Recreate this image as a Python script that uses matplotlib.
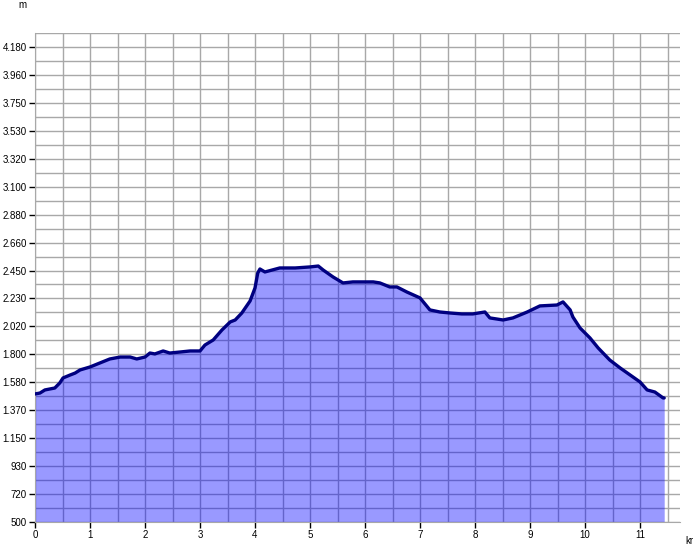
import numpy as np
import matplotlib
matplotlib.use("Agg")
import matplotlib.pyplot as plt

# elevation profile
dist_km = [0.00, 0.09, 0.18, 0.36, 0.45, 0.51, 0.64, 0.73, 0.82, 1.00,
           1.18, 1.36, 1.55, 1.73, 1.85, 2.00, 2.09, 2.18, 2.33, 2.45,
           2.64, 2.82, 3.00, 3.09, 3.24, 3.40, 3.55, 3.64, 3.76, 3.91,
           4.00, 4.05, 4.09, 4.18, 4.45, 4.73, 5.00, 5.15, 5.24, 5.42,
           5.60, 5.78, 6.00, 6.15, 6.27, 6.45, 6.58, 6.76, 7.00, 7.18,
           7.36, 7.55, 7.76, 7.96, 8.18, 8.27, 8.51, 8.69, 8.95, 9.18,
           9.49, 9.60, 9.73, 9.78, 9.91, 10.09, 10.24, 10.45, 10.64, 10.82,
           11.00, 11.13, 11.27, 11.42, 11.44]
elev_m = [1492, 1499, 1523, 1538, 1577, 1616, 1639, 1654, 1678, 1701,
          1732, 1763, 1778, 1778, 1763, 1778, 1809, 1802, 1825, 1809,
          1817, 1825, 1825, 1871, 1910, 1988, 2050, 2065, 2119, 2212,
          2313, 2429, 2460, 2437, 2468, 2468, 2476, 2483, 2452, 2398,
          2352, 2360, 2360, 2360, 2352, 2321, 2321, 2282, 2236, 2143,
          2127, 2119, 2112, 2112, 2127, 2081, 2065, 2081, 2127, 2174,
          2181, 2205, 2143, 2088, 2003, 1926, 1848, 1755, 1693, 1639,
          1585, 1523, 1507, 1461, 1461]

y_labels = ["500", "720", "930", "1.150", "1.370", "1.580", "1.800", "2.020",
            "2.230", "2.450", "2.660", "2.880", "3.100", "3.320", "3.530",
            "3.750", "3.960", "4.180"]
x_labels = [str(i) for i in range(12)]

plt.rcParams["font.family"] = ["Liberation Sans", "DejaVu Sans"]

y_min = 500
y_step = (4180 - 500) / 17
y_ticks = [y_min + i * y_step for i in range(len(y_labels))]
x_max = (680 - 35) / 55
y_max = y_min + 17.5 * y_step

W, H = 693, 547
fig = plt.figure(figsize=(W / 100, H / 100), dpi=100)
ax = fig.add_axes([35 / W, (H - 522) / H, (680 - 35) / W, (522 - 33) / H])

ax.set_xlim(0, x_max)
ax.set_ylim(y_min, y_max)

ax.set_xticks(range(12))
ax.set_xticklabels(x_labels)
ax.set_yticks(y_ticks)
ax.set_yticklabels(y_labels)
ax.set_xticks(np.arange(0.5, x_max, 1.0), minor=True)
ax.set_yticks(np.arange(y_min + y_step / 2, y_max + 1, y_step), minor=True)
ax.tick_params(which="minor", length=0)
ax.tick_params(which="major", length=4, width=1, color="black",
               labelsize=7, pad=2)

ax.grid(True, which="both", color="#a8a8a8", linewidth=1, zorder=0)
ax.set_axisbelow(True)
for side in ["top", "right"]:
    ax.spines[side].set_visible(False)
ax.spines["left"].set_color("#a8a8a8")
ax.spines["bottom"].set_color("#a8a8a8")

ax.fill_between(dist_km, elev_m, y_min, color="#0000ff", alpha=0.4,
                linewidth=0, zorder=2)
ax.plot(dist_km, elev_m, color="#000080", linewidth=2.4, zorder=3,
        solid_joinstyle="round", solid_capstyle="round")

fig.text(22 / W, 1 - 5 / H, "m", fontsize=7, va="center", ha="center")
fig.text(685 / W, 1 - 541 / H, "km", fontsize=7, va="center", ha="left")

fig.savefig("out.png", dpi=100)
